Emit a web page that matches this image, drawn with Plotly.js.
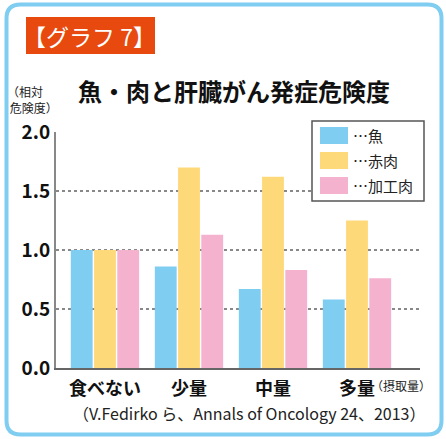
<!DOCTYPE html>
<html>
<head>
<meta charset="utf-8">
<script src="https://cdn.plot.ly/plotly-3.0.1.min.js"></script>
<style>
  html, body { margin: 0; padding: 0; background: #fff; }
  #chart { width: 446px; height: 439px; }
</style>
</head>
<body>
<div id="chart"></div>
<script>
var categories = ['食べない', '少量', '中量', '多量'];
var seriesNames = ['…魚', '…赤肉', '…加工肉'];
var fish = [1.0, 0.86, 0.67, 0.58];
var redMeat = [1.0, 1.70, 1.62, 1.25];
var processedMeat = [1.0, 1.13, 0.83, 0.76];
var colors = ['#80cdf2', '#fed97a', '#f5b2cf'];
var yTicks = [0, 0.5, 1.0, 1.5, 2.0];
var yTickText = ['0.0', '0.5', '1.0', '1.5', '2.0'];

var FONT = '"Noto Sans CJK JP", "Noto Sans", sans-serif';

// plot area in pixels: x 56..420, y 132..368
var L = 56, R = 420, T = 132, B = 368;
function px(x) { return (x - L) / (R - L); }
function py(y) { return (B - y) / (B - T); }

var allSeries = [fish, redMeat, processedMeat];
var data = allSeries.map(function (vals, i) {
  return {
    type: 'bar',
    x: categories,
    y: vals,
    name: seriesNames[i],
    marker: { color: colors[i] },
    hoverinfo: 'none'
  };
});

// rounded frame
var x0 = 6.5, y0 = 4.5, x1 = 441.5, y1 = 434.5, r = 14;
function pt(x, y) { return px(x) + ',' + py(y); }
var framePath = 'M' + pt(x0 + r, y0) +
  ' L' + pt(x1 - r, y0) + ' Q' + pt(x1, y0) + ' ' + pt(x1, y0 + r) +
  ' L' + pt(x1, y1 - r) + ' Q' + pt(x1, y1) + ' ' + pt(x1 - r, y1) +
  ' L' + pt(x0 + r, y1) + ' Q' + pt(x0, y1) + ' ' + pt(x0, y1 - r) +
  ' L' + pt(x0, y0 + r) + ' Q' + pt(x0, y0) + ' ' + pt(x0 + r, y0) + ' Z';

var shapes = [
  { type: 'path', xref: 'paper', yref: 'paper', path: framePath,
    line: { color: '#80cdf2', width: 4 } },
  { type: 'rect', xref: 'paper', yref: 'paper',
    x0: px(26), x1: px(155), y0: py(54), y1: py(17),
    fillcolor: '#e8490f', line: { width: 0 } },
  // legend box
  { type: 'rect', xref: 'paper', yref: 'paper',
    x0: px(312), x1: px(424), y0: py(201), y1: py(121),
    fillcolor: '#fff', line: { color: '#555', width: 1.5 } }
];

function note(text, x, y, xanchor, size, extra) {
  var a = { text: text, x: px(x), y: py(y), xref: 'paper', yref: 'paper',
    xanchor: xanchor, yanchor: 'middle', showarrow: false,
    font: { family: FONT, size: size, color: '#222' } };
  for (var k in extra) a[k] = extra[k];
  return a;
}

var annotations = [
  note('【グラフ 7】', 89, 36, 'center', 23, { font: { family: FONT, size: 23, color: '#fff' } }),
  note('魚・肉と肝臓がん発症危険度', 234, 90, 'center', 24,
    { font: { family: FONT, size: 24, color: '#111', weight: 'bold' } }),
  note('（相対<br> 危険度）', 5, 100, 'left', 12, { align: 'left' }),
  note('（摂取量）', 433, 385, 'right', 12),
  note('（V.Fedirko ら、Annals of Oncology 24、2013）', 427, 413, 'right', 16)
];

seriesNames.forEach(function (name, i) {
  var top = 127 + i * 25;
  shapes.push({ type: 'rect', xref: 'paper', yref: 'paper',
    x0: px(320), x1: px(348), y0: py(top + 17), y1: py(top),
    fillcolor: colors[i], line: { width: 0 } });
  annotations.push(note(name, 351, top + 8.5, 'left', 15));
});

var layout = {
  width: 446,
  height: 439,
  margin: { l: L, r: 446 - R, t: T, b: 439 - B, pad: 0 },
  paper_bgcolor: '#fff',
  plot_bgcolor: '#fff',
  barmode: 'group',
  bargap: 0.17,
  bargroupgap: 0.06,
  showlegend: false,
  xaxis: {
    range: [-0.583, 3.75],
    showline: true, linecolor: '#666', linewidth: 2,
    showgrid: false, ticks: 'outside', ticklen: 3, tickcolor: 'rgba(0,0,0,0)', fixedrange: true,
    tickfont: { family: FONT, size: 18, color: '#111', weight: 'bold' }
  },
  yaxis: {
    range: [0, 2.0],
    tickvals: yTicks, ticktext: yTickText,
    showline: true, linecolor: '#888', linewidth: 2,
    showgrid: true, gridcolor: '#888', gridwidth: 1.5, griddash: 'dot',
    zeroline: false, ticks: '', fixedrange: true,
    tickfont: { family: FONT, size: 19, color: '#111', weight: 'bold' }
  },
  shapes: shapes,
  annotations: annotations
};

Plotly.newPlot('chart', data, layout, { displayModeBar: false, staticPlot: true });
</script>
</body>
</html>
